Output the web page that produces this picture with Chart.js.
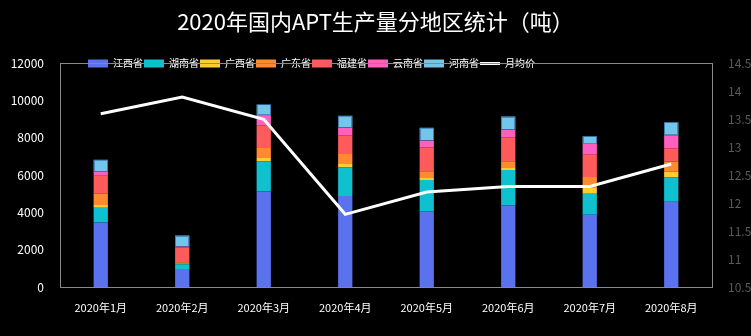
<html>
<body style="margin:0;background:#000;">
    <canvas id="myChart" width="751" height="336"></canvas>
</body>
<script type="text/javascript" src="https://cdn.jsdelivr.net/npm/chart.js@4/dist/chart.umd.min.js"></script>
<script>
// monthly output by region (tons), price line on right axis
var months = ['2020年1月', '2020年2月', '2020年3月', '2020年4月', '2020年5月', '2020年6月', '2020年7月', '2020年8月'];
var jiangxi   = [3460, 970, 5130, 4880, 4050, 4380, 3875, 4575];
var hunan     = [790, 250, 1615, 1540, 1690, 1900, 1125, 1295];
var guangxi   = [150, 30, 215, 180, 110, 110, 310, 320];
var guangdong = [600, 80, 500, 540, 360, 355, 590, 540];
var fujian    = [970, 785, 1220, 1000, 1290, 1295, 1200, 710];
var yunnan    = [220, 75, 510, 430, 360, 430, 580, 690];
var henan     = [640, 570, 610, 620, 680, 680, 410, 710];
var avgPrice  = [13.6, 13.9, 13.5, 11.8, 12.2, 12.3, 12.3, 12.7];

var font = '"Noto Sans CJK SC", "Noto Sans", sans-serif';

function barSet(label, data, color) {
    return {
        type: 'bar',
        label: label,
        data: data,
        backgroundColor: color,
        borderWidth: 0,
        pointStyle: 'rect',
        yAxisID: 'y',
        barPercentage: 0.5,
        categoryPercentage: 0.35
    };
}

// black page + grey frame round the plot area, dotted edge on the top segment
var framePlugin = {
    id: 'frame',
    beforeDraw: function (chart) {
        var ctx = chart.ctx;
        ctx.save();
        ctx.fillStyle = '#000';
        ctx.fillRect(0, 0, chart.width, chart.height);
        ctx.restore();
    },
    afterLayout: function (chart) {
        // legend sits left of centre, right on the top edge of the frame
        var lg = chart.legend;
        lg.left = 87;
        lg.right = 87 + lg.width;
        lg.top += 15;
        lg.bottom += 15;
    },
    beforeDatasetsDraw: function (chart) {
        var a = chart.chartArea, ctx = chart.ctx;
        ctx.save();
        ctx.strokeStyle = '#8a8a8a';
        ctx.lineWidth = 1;
        ctx.strokeRect(Math.round(a.left) + 0.5, Math.round(a.top) + 0.5,
            Math.round(a.right - a.left), Math.round(a.bottom - a.top));
        ctx.restore();
    },
    afterDatasetsDraw: function (chart) {
        var meta = chart.getDatasetMeta(6), ctx = chart.ctx;
        ctx.save();
        ctx.strokeStyle = '#1f4f9a';
        ctx.lineWidth = 1;
        ctx.setLineDash([1, 1]);
        meta.data.forEach(function (bar) {
            var x = Math.round(bar.x - bar.width / 2) + 0.5;
            var y = Math.round(bar.y) + 0.5;
            ctx.strokeRect(x, y, Math.round(bar.width) - 1, Math.round(bar.base - bar.y) - 1);
        });
        ctx.restore();
    }
};

var ctx = document.getElementById('myChart').getContext('2d');
var chart = new Chart(ctx, {
    data: {
        labels: months,
        datasets: [
            barSet('江西省', jiangxi, '#5a72ee'),
            barSet('湖南省', hunan, '#0fc0cf'),
            barSet('广西省', guangxi, '#ffcb2f'),
            barSet('广东省', guangdong, '#ff8a30'),
            barSet('福建省', fujian, '#ff5a5c'),
            barSet('云南省', yunnan, '#ff5fbf'),
            barSet('河南省', henan, '#72c6ea'),
            {
                type: 'line',
                label: '月均价',
                data: avgPrice,
                yAxisID: 'y1',
                borderColor: '#ffffff',
                backgroundColor: '#ffffff',
                borderWidth: 3,
                pointRadius: 0,
                pointStyle: 'line',
                tension: 0,
                order: -1
            }
        ]
    },
    options: {
        responsive: false,
        animation: false,
        layout: { padding: 0 },
        plugins: {
            title: {
                display: true,
                text: '2020年国内APT生产量分地区统计（吨）',
                color: '#ffffff',
                font: { family: font, size: 22, weight: 'normal' },
                padding: { top: 8, bottom: 8 }
            },
            legend: {
                display: true,
                align: 'start',
                labels: {
                    color: '#ffffff',
                    font: { family: font, size: 10 },
                    usePointStyle: true,
                    pointStyleWidth: 20,
                    boxHeight: 8,
                    padding: 1,
                    sort: function (a, b) { return a.datasetIndex - b.datasetIndex; }
                }
            },
            tooltip: { enabled: false }
        },
        scales: {
            x: {
                stacked: true,
                grid: { display: false },
                border: { display: false },
                ticks: { color: '#ffffff', font: { family: font, size: 11 }, padding: 6 },
                afterFit: function (scale) { scale.height = 49; }
            },
            y: {
                stacked: true,
                position: 'left',
                min: 0,
                max: 12000,
                grid: { display: false },
                border: { display: false },
                ticks: {
                    stepSize: 2000, color: '#ffffff', font: { family: font, size: 12 }, padding: 8,
                    callback: function (v) { return String(v); }
                },
                afterFit: function (scale) { scale.width = 60; }
            },
            y1: {
                position: 'right',
                min: 10.5,
                max: 14.5,
                grid: { display: false },
                border: { display: false },
                ticks: {
                    stepSize: 0.5, color: '#5a5a5a', font: { family: font, size: 12 }, padding: 8,
                    callback: function (v) { return String(v); }
                },
                afterFit: function (scale) { scale.width = 39; }
            }
        }
    },
    plugins: [framePlugin]
});
</script>
</html>
